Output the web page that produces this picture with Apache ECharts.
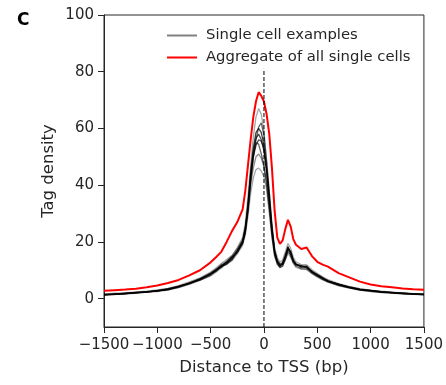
<!DOCTYPE html>
<html>
<head>
<meta charset="utf-8">
<script src="https://cdn.jsdelivr.net/npm/echarts@6/dist/echarts.min.js"></script>
<style>html,body{margin:0;padding:0;background:#fff;}#c{width:446px;height:385px;}</style>
</head>
<body>
<div id="c"></div>
<script>
// Distance to TSS (bp) sample positions
const distances = [-1500,-1400,-1300,-1200,-1100,-1000,-900,-800,-700,-600,-500,-450,-400,-350,-300,-250,-200,-175,-150,-125,-100,-75,-50,-25,0,25,50,75,100,125,150,175,200,225,250,275,300,350,400,450,500,550,600,700,800,900,1000,1100,1200,1300,1400,1500];
// Aggregate of all single cells
const aggregate = [2.8,3.0,3.2,3.5,4.0,4.6,5.5,6.6,8.2,10.0,12.8,14.6,16.5,20.0,23.8,27.0,31.5,38.0,47.0,56.0,64.0,69.5,72.8,71.5,69.5,65.0,58.0,46.0,31.0,21.5,19.3,20.5,24.5,27.8,25.5,21.0,19.0,17.5,18.0,15.0,13.0,12.0,11.3,9.0,7.5,6.0,5.0,4.4,4.0,3.6,3.3,3.1];
// Single cell examples
const cellA = [1.6,1.9,2.0,2.4,2.6,3.1,3.6,4.6,5.9,7.3,9.4,10.8,12.4,13.8,15.2,18.0,21.5,26.5,36.0,47.0,57.0,64.0,67.0,65.0,59.0,49.0,38.0,26.5,18.0,14.5,12.8,13.6,16.5,19.5,17.8,14.6,13.0,12.0,12.0,10.2,8.9,7.7,6.7,5.3,4.3,3.5,3.0,2.6,2.3,2.0,1.8,1.7];
const cellB = [1.3,1.5,1.9,2.0,2.5,2.6,3.4,4.0,5.2,6.6,8.6,9.6,11.3,12.2,14.5,16.2,19.6,23.0,30.5,41.0,49.5,56.0,60.5,62.0,57.5,48.0,37.5,25.5,16.8,13.0,11.6,12.2,14.8,18.4,16.0,13.2,12.4,11.0,11.5,9.2,8.0,7.0,6.2,4.8,3.9,3.1,2.7,2.3,2.0,1.9,1.6,1.4];
const cellC = [1.4,1.6,1.7,2.2,2.3,2.8,3.2,4.3,5.3,6.9,8.7,10.1,11.0,12.8,14.0,17.0,20.3,24.5,33.5,44.0,52.0,56.5,58.0,56.0,52.0,44.5,34.0,24.0,16.5,13.2,11.8,12.0,14.2,17.2,16.8,13.8,11.9,11.6,10.8,9.7,8.4,7.3,6.1,5.1,4.0,3.3,2.9,2.4,2.2,1.8,1.7,1.5];
const cellD = [1.2,1.5,1.8,1.9,2.3,2.7,3.1,4.1,5.5,6.5,8.2,9.9,11.6,12.0,13.6,16.5,19.4,24.0,32.0,42.5,50.5,55.0,54.5,51.0,47.0,40.0,31.5,22.0,15.2,12.6,11.0,11.5,13.8,16.6,15.5,12.8,11.5,10.6,10.5,9.0,7.9,6.8,5.9,4.7,3.8,3.0,2.6,2.2,2.0,1.7,1.6,1.3];
const cellE = [1.5,1.4,1.9,2.1,2.2,2.9,3.5,4.4,5.6,7.1,9.0,10.4,12.0,13.2,15.0,17.6,20.8,25.5,31.0,40.0,46.0,50.0,51.0,49.5,46.5,41.5,33.0,23.5,16.0,12.2,11.2,12.8,15.6,17.8,15.0,13.0,12.0,11.2,11.0,9.6,8.1,7.1,6.4,4.9,4.1,3.4,2.8,2.5,2.2,1.9,1.8,1.6];
const cellF = [1.3,1.7,1.6,2.0,2.4,2.5,3.0,3.9,5.0,6.4,8.0,9.3,10.8,12.4,13.4,15.8,18.8,22.5,29.0,37.0,42.5,45.5,46.0,45.0,43.0,38.5,30.0,21.5,14.8,12.0,10.9,11.4,13.5,16.0,14.6,12.4,11.0,10.4,10.2,8.8,7.6,6.6,5.8,4.5,3.7,3.0,2.5,2.1,1.9,1.7,1.5,1.3];
const cellG = [1.5,1.6,1.8,2.1,2.5,2.8,3.3,4.2,5.5,6.8,8.9,10.2,11.7,12.6,14.3,16.9,20.2,24.8,33.0,44.5,53.0,58.5,60.0,58.5,54.0,45.5,35.0,24.5,16.2,13.0,11.5,12.4,15.0,18.2,16.4,13.5,12.2,11.3,11.2,9.5,8.3,7.2,6.3,5.0,4.0,3.2,2.8,2.4,2.1,1.9,1.7,1.5];
const cellH = [1.4,1.7,1.9,2.2,2.4,2.7,3.4,4.3,5.4,7.0,8.6,9.8,11.4,13.0,14.8,16.4,19.8,23.5,31.5,42.0,50.0,54.0,56.0,55.5,53.0,46.0,36.0,25.0,17.0,13.6,12.2,12.6,14.6,17.6,16.2,13.4,12.0,11.6,11.4,9.4,8.5,7.4,6.2,5.1,4.1,3.3,2.9,2.5,2.1,1.9,1.7,1.5];
const cells = [cellA, cellB, cellC, cellD, cellE, cellF, cellG, cellH];
const cellAlpha = [0.35, 0.6, 0.7, 0.6, 0.45, 0.35, 0.75, 0.7];
// TSS marker line (x = 0)
const tssX = 0;
const tssSpan = [-10, 81];
// Axis ticks
const xTicks = [-1500,-1000,-500,0,500,1000,1500];
const yTicks = [0,20,40,60,80,100];

const FONT = 'DejaVu Sans';
const TXT = '#262626';
const pairs = vals => distances.map((d, i) => [d, vals[i]]);

const series = cells.map((vals, k) => ({
  name: 'Single cell examples',
  type: 'line',
  data: pairs(vals),
  showSymbol: false,
  symbol: 'none',
  silent: true,
  lineStyle: { color: 'rgba(0,0,0,' + cellAlpha[k] + ')', width: 1.3 },
  z: 2
}));
series.push({
  name: 'Aggregate of all single cells',
  type: 'line',
  data: pairs(aggregate),
  showSymbol: false,
  symbol: 'none',
  lineStyle: { color: '#ff0000', width: 2 },
  z: 3
});
series.push({
  name: 'TSS',
  type: 'line',
  data: tssSpan.map(v => [tssX, v]),
  showSymbol: false,
  symbol: 'none',
  lineStyle: { color: '#000', width: 1, type: [4, 2] },
  z: 4
});

const chart = echarts.init(document.getElementById('c'), null, { renderer: 'canvas' });
chart.setOption({
  animation: false,
  backgroundColor: '#fff',
  title: { text: 'C', left: 12, top: 7, textStyle: { fontFamily: FONT, fontSize: 17, fontWeight: 'bold', color: '#000' } },
  grid: { left: 104, right: 22, top: 15, bottom: 58, show: true, borderColor: TXT, borderWidth: 1, backgroundColor: 'transparent' },
  legend: {
    orient: 'vertical', left: 162, top: 23, itemWidth: 30, itemHeight: 2, itemGap: 7,
    icon: 'rect',
    textStyle: { fontFamily: FONT, fontSize: 14.8, color: TXT, padding: [0, 0, 0, 4] },
    data: [
      { name: 'Single cell examples', itemStyle: { color: '#808080' } },
      { name: 'Aggregate of all single cells', itemStyle: { color: '#ff0000' } }
    ]
  },
  xAxis: {
    type: 'value', min: -1500, max: 1500, interval: 500,
    name: 'Distance to TSS (bp)', nameLocation: 'middle', nameGap: 32,
    nameTextStyle: { fontFamily: FONT, fontSize: 16.5, color: TXT },
    axisLine: { onZero: false, lineStyle: { color: TXT, width: 1 } },
    axisTick: { show: true, length: 6, inside: false, lineStyle: { color: TXT }, customValues: xTicks },
    axisLabel: { fontFamily: FONT, fontSize: 15, color: TXT, margin: 11, customValues: xTicks,
      formatter: v => String(v).replace('-', '\u2212') },
    splitLine: { show: false }
  },
  yAxis: {
    type: 'value', min: -10, max: 100,
    name: 'Tag density', nameLocation: 'middle', nameGap: 47, nameMoveOverlap: false,
    nameTextStyle: { fontFamily: FONT, fontSize: 16.5, color: TXT },
    axisLine: { show: true, onZero: false, lineStyle: { color: TXT, width: 1 } },
    axisTick: { show: true, length: 6, inside: false, lineStyle: { color: TXT }, customValues: yTicks },
    axisLabel: { fontFamily: FONT, fontSize: 15, color: TXT, margin: 10, customValues: yTicks },
    splitLine: { show: false }
  },
  series: series
});
</script>
</body>
</html>
